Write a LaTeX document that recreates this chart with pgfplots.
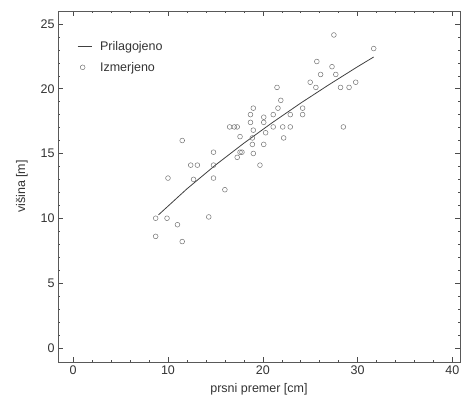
\documentclass[border=0pt]{standalone}
\usepackage{fontspec}
\setmainfont{Liberation Sans}
\usepackage{pgfplots}
\pgfplotsset{compat=1.18}
\pgfplotsset{
  shortline/.style={legend image code/.code={\draw[##1] (0bp,0bp) -- (14bp,0bp); \path (20bp,0bp);}},
  shortmark/.style={legend image code/.code={\draw[##1] plot coordinates {(5bp,0bp)}; \path (20bp,0bp);}},
}

\begin{document}
\begin{tikzpicture}
\useasboundingbox (-58bp,-50bp) rectangle (407bp,362bp);
\begin{axis}[
  scale only axis, width=402bp, height=351bp,
  xmin=-1.6, xmax=40.8, ymin=-1.1, ymax=26.0,
  xtick={0,10,20,30,40}, ytick={0,5,10,15,20,25},
  minor x tick num=4, minor y tick num=4,
  tick align=inside, major tick length=5bp, minor tick length=2.5bp,
  tick style={black!70, line width=0.5pt},
  axis line style={black!65, line width=0.6pt},
  tick label style={font=\fontsize{12.5bp}{14bp}\selectfont, text=black!80},
  label style={font=\fontsize{12.5bp}{14bp}\selectfont, text=black!80},
  /pgf/number format/assume math mode=true,
  xlabel={prsni premer [cm]}, ylabel={višina [m]},
  xlabel style={yshift=-2bp}, ylabel style={yshift=6bp},
  legend style={draw=none, fill=none, font=\fontsize{12.5bp}{14bp}\selectfont, text=black!80,
    at={(0.04,0.925)}, anchor=north west, row sep=6bp},
  legend cell align=left,
]
\addplot[black!75, line width=0.8pt, shortline] coordinates {
  (9.0,10.26) (12,12.27) (15,14.10) (18,15.79) (21,17.38)
  (24,18.89) (27,20.32) (30,21.70) (31.7,22.45)};
\addlegendentry{Prilagojeno}
\addplot[only marks, mark=o, mark size=2.4pt, black!55, line width=0.5pt, shortmark]
  coordinates {
  (11.5,16.0) (14.8,15.1) (16.5,17.05) (17.0,17.05) (12.4,14.1) (13.1,14.1)
  (10.0,13.1) (12.7,13.0) (14.8,14.1) (16.0,12.2) (14.3,10.1) (8.7,10.0)
  (9.9,10.0) (11.0,9.5) (8.7,8.6) (11.5,8.2) (14.8,13.1)
  (27.5,24.15) (25.7,22.1) (27.3,21.7) (26.1,21.1) (27.7,21.1) (25.0,20.5)
  (25.6,20.1) (28.2,20.1) (21.5,20.1) (21.9,19.1) (19.0,18.5) (21.6,18.5)
  (24.2,18.5) (18.7,18.0) (20.1,17.8) (21.1,18.0) (22.9,18.0) (24.2,18.0)
  (18.7,17.4) (20.1,17.4) (17.3,17.05) (21.1,17.05) (22.1,17.05) (22.9,17.05)
  (28.5,17.05) (19.0,16.8) (17.6,16.3) (20.3,16.6) (22.2,16.2) (18.9,15.7)
  (20.1,15.7) (17.6,15.1) (19.0,15.0) (17.3,14.7) (19.7,14.1) (31.7,23.1)
  (29.8,20.5) (29.1,20.1) (17.8,15.1) (18.9,16.2)};
\addlegendentry{Izmerjeno}
\end{axis}
\end{tikzpicture}
\end{document}
